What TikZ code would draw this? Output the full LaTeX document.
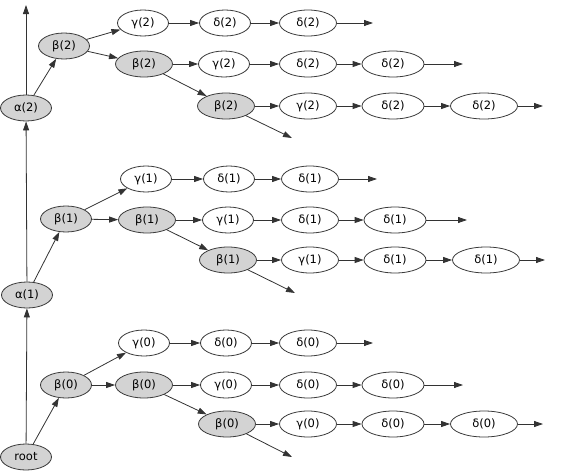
\documentclass[tikz,border=0pt]{standalone}
\usepackage{fontspec}
\setmainfont{DejaVu Sans}
\usetikzlibrary{arrows.meta,shapes.geometric}
\definecolor{nodegrey}{HTML}{D3D3D3}
\definecolor{inkgrey}{HTML}{3A3A3A}

\begin{document}
\begin{tikzpicture}[
  x=1pt, y=-1pt,
  state/.style ={ellipse, draw=inkgrey, line width=0.8pt, inner sep=0pt,
                 minimum width=51pt, minimum height=26pt,
                 font=\fontsize{11.5}{13}\selectfont},
  held/.style  ={state, fill=nodegrey},
  open/.style  ={state, fill=white},
  mid/.style   ={minimum width=57pt},
  wide/.style  ={minimum width=62pt},
  wider/.style ={minimum width=67pt},
  fwd/.style   ={-{Triangle[length=9pt,width=6pt]}, line width=0.8pt, black!80},
]
\useasboundingbox (0,0) rectangle (576,474);

% ---------------- group 2 (top) ----------------
\node[held] (a2)   at (26,108)  {α(2)};
\node[held] (b20)  at (64,46)   {β(2)};
\node[open] (g21)  at (143,23)  {γ(2)};
\node[open] (d211) at (225,23)  {δ(2)};
\node[open,mid] (d212) at (308,23) {δ(2)};
\node[held,mid] (b22)  at (144,64) {β(2)};
\node[open] (g22)  at (224,64)  {γ(2)};
\node[open,mid] (d221) at (308,64) {δ(2)};
\node[open,wide] (d222) at (393,64) {δ(2)};
\node[held,mid] (b23)  at (226,106) {β(2)};
\node[open,mid] (g23)  at (308,106) {γ(2)};
\node[open,wide] (d231) at (393,106) {δ(2)};
\node[open,wider] (d232) at (484,106) {δ(2)};
\coordinate (top) at (26,5);
\coordinate (e21) at (373,23);
\coordinate (e22) at (463,64);
\coordinate (e23) at (543,106);
\coordinate (e24) at (292,138);

\draw[fwd] (a2) -- (top);   \draw[fwd] (a2) -- (b20);
\draw[fwd] (b20) -- (g21);  \draw[fwd] (g21) -- (d211);
\draw[fwd] (d211) -- (d212); \draw[fwd] (d212) -- (e21);
\draw[fwd] (b20) -- (b22);  \draw[fwd] (b22) -- (g22);
\draw[fwd] (g22) -- (d221); \draw[fwd] (d221) -- (d222);
\draw[fwd] (d222) -- (e22); \draw[fwd] (b22) -- (b23);
\draw[fwd] (b23) -- (g23);  \draw[fwd] (g23) -- (d231);
\draw[fwd] (d231) -- (d232); \draw[fwd] (d232) -- (e23);
\draw[fwd] (b23) -- (e24);

% ---------------- group 1 (middle) ----------------
\node[held] (a1)   at (27,295)  {α(1)};
\node[held] (b10)  at (66,219)  {β(1)};
\node[open] (g11)  at (146,179) {γ(1)};
\node[open] (d111) at (229,179) {δ(1)};
\node[open,mid] (d112) at (310,179) {δ(1)};
\node[held,mid] (b12)  at (147,220) {β(1)};
\node[open] (g12)  at (228,220) {γ(1)};
\node[open,mid] (d121) at (310,220) {δ(1)};
\node[open,wide] (d122) at (395,220) {δ(1)};
\node[held,mid] (b13)  at (228,260) {β(1)};
\node[open,mid] (g13)  at (310,260) {γ(1)};
\node[open,wide] (d131) at (395,260) {δ(1)};
\node[open,wider] (d132) at (486,260) {δ(1)};
\coordinate (e11) at (377,179);
\coordinate (e12) at (467,220);
\coordinate (e13) at (545,260);
\coordinate (e14) at (295,293);

\draw[fwd] (a1) -- (a2);    \draw[fwd] (a1) -- (b10);
\draw[fwd] (b10) -- (g11);  \draw[fwd] (g11) -- (d111);
\draw[fwd] (d111) -- (d112); \draw[fwd] (d112) -- (e11);
\draw[fwd] (b10) -- (b12);  \draw[fwd] (b12) -- (g12);
\draw[fwd] (g12) -- (d121); \draw[fwd] (d121) -- (d122);
\draw[fwd] (d122) -- (e12); \draw[fwd] (b12) -- (b13);
\draw[fwd] (b13) -- (g13);  \draw[fwd] (g13) -- (d131);
\draw[fwd] (d131) -- (d132); \draw[fwd] (d132) -- (e13);
\draw[fwd] (b13) -- (e14);

% ---------------- group 0 (bottom) ----------------
\node[held] (root) at (26,457)  {root};
\node[held] (b00)  at (66,385)  {β(0)};
\node[open] (g01)  at (144,343) {γ(0)};
\node[open] (d011) at (226,343) {δ(0)};
\node[open,mid] (d012) at (308,343) {δ(0)};
\node[held,mid] (b02)  at (144,385) {β(0)};
\node[open] (g02)  at (226,385) {γ(0)};
\node[open,mid] (d021) at (308,385) {δ(0)};
\node[open,wide] (d022) at (393,385) {δ(0)};
\node[held,mid] (b03)  at (227,424) {β(0)};
\node[open,mid] (g03)  at (308,424) {γ(0)};
\node[open,wide] (d031) at (393,424) {δ(0)};
\node[open,wider] (d032) at (484,424) {δ(0)};
\coordinate (e01) at (373,343);
\coordinate (e02) at (463,385);
\coordinate (e03) at (543,424);
\coordinate (e04) at (292,457);

\draw[fwd] (root) -- (a1);  \draw[fwd] (root) -- (b00);
\draw[fwd] (b00) -- (g01);  \draw[fwd] (g01) -- (d011);
\draw[fwd] (d011) -- (d012); \draw[fwd] (d012) -- (e01);
\draw[fwd] (b00) -- (b02);  \draw[fwd] (b02) -- (g02);
\draw[fwd] (g02) -- (d021); \draw[fwd] (d021) -- (d022);
\draw[fwd] (d022) -- (e02); \draw[fwd] (b02) -- (b03);
\draw[fwd] (b03) -- (g03);  \draw[fwd] (g03) -- (d031);
\draw[fwd] (d031) -- (d032); \draw[fwd] (d032) -- (e03);
\draw[fwd] (b03) -- (e04);

\end{tikzpicture}
\end{document}
